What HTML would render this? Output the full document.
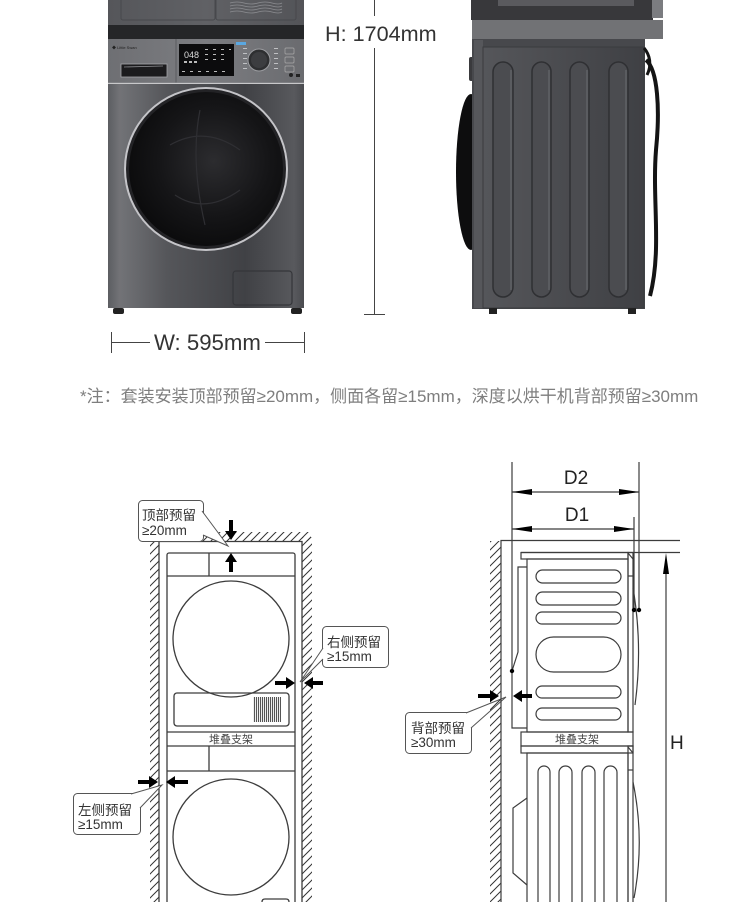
<!DOCTYPE html>
<html><head><meta charset="utf-8"><style>
html,body{margin:0;padding:0;background:#fff;}
svg{display:block;}
text{font-family:"Liberation Sans","Noto Sans CJK SC",sans-serif;}
</style></head><body>
<svg width="750" height="902" viewBox="0 0 750 902" xmlns="http://www.w3.org/2000/svg">
<defs>
<linearGradient id="gBody" x1="0" x2="1" y1="0" y2="0">
<stop offset="0" stop-color="#5c5d61"/><stop offset="0.06" stop-color="#727377"/><stop offset="0.3" stop-color="#55565a"/><stop offset="0.7" stop-color="#404145"/><stop offset="0.95" stop-color="#58595d"/><stop offset="1" stop-color="#4a4b4f"/>
</linearGradient>
<linearGradient id="gPanel" x1="0" x2="1" y1="0" y2="0">
<stop offset="0" stop-color="#6e6f73"/><stop offset="0.5" stop-color="#7c7d81"/><stop offset="1" stop-color="#6a6b6f"/>
</linearGradient>
<linearGradient id="gTop" x1="0" x2="1" y1="0" y2="0">
<stop offset="0" stop-color="#55565a"/><stop offset="0.5" stop-color="#606165"/><stop offset="1" stop-color="#535458"/>
</linearGradient>
<radialGradient id="gDoor" cx="0.55" cy="0.45" r="0.6">
<stop offset="0" stop-color="#2c2c2f"/><stop offset="0.6" stop-color="#151517"/><stop offset="1" stop-color="#0a0a0b"/>
</radialGradient>
<linearGradient id="gSide" x1="0" x2="1" y1="0" y2="0">
<stop offset="0" stop-color="#55565a"/><stop offset="0.5" stop-color="#4a4b4f"/><stop offset="1" stop-color="#3f4044"/>
</linearGradient>
<pattern id="hatch" width="8" height="8" patternUnits="userSpaceOnUse">
<path d="M0,8 L8,0 M-1,1 L1,-1 M7,9 L9,7" stroke="#333" stroke-width="1"/>
</pattern>
<pattern id="grille" width="2" height="4" patternUnits="userSpaceOnUse">
<rect x="0" y="0" width="1.1" height="4" fill="#555"/>
</pattern>
</defs>

<!-- ===== FRONT PHOTO ===== -->
<rect x="108" y="0" width="196" height="26" fill="url(#gTop)"/>
<rect x="121" y="-2" width="94" height="22" rx="2" fill="none" stroke="#47484c"/>
<rect x="216" y="-2" width="80" height="22" rx="2" fill="none" stroke="#47484c"/>
<g stroke="#8c8d91" stroke-width="0.8" fill="none">
<path d="M230,3 q7,-2 14,0 t14,0 t14,0 t10,0"/><path d="M230,6 q7,-2 14,0 t14,0 t14,0 t10,0"/>
<path d="M230,9 q7,-2 14,0 t14,0 t14,0 t10,0"/><path d="M230,12 q7,-2 14,0 t14,0 t14,0 t10,0"/>
</g>
<rect x="108" y="25" width="196" height="14" fill="#252628"/>
<rect x="108" y="39" width="196" height="44" fill="url(#gPanel)"/>
<line x1="176" y1="39" x2="176" y2="83" stroke="#5a5b5f"/>
<line x1="108" y1="83" x2="304" y2="83" stroke="#909195"/>
<text x="112" y="49" font-size="4" fill="#222">◆ Little Swan</text>
<rect x="179" y="44" width="55" height="32" fill="#0c0c0d"/>
<text x="184" y="58" font-size="9" fill="#ddd">048</text>
<g fill="#bbb"><rect x="184" y="61" width="3" height="2"/><rect x="189" y="61" width="3" height="2"/><rect x="194" y="61" width="3" height="2"/>
<rect x="205" y="49" width="3" height="1"/><rect x="213" y="49" width="3" height="1"/><rect x="221" y="49" width="3" height="1"/><rect x="229" y="49" width="2" height="1"/>
<rect x="205" y="54" width="3" height="1"/><rect x="213" y="54" width="3" height="1"/><rect x="221" y="54" width="3" height="1"/>
<rect x="205" y="59" width="3" height="1"/><rect x="213" y="59" width="3" height="1"/><rect x="221" y="59" width="3" height="1"/>
<rect x="182" y="71" width="3" height="1"/><rect x="190" y="71" width="3" height="1"/><rect x="198" y="71" width="3" height="1"/><rect x="206" y="71" width="3" height="1"/><rect x="214" y="71" width="3" height="1"/><rect x="222" y="71" width="3" height="1"/></g>
<rect x="236" y="42" width="10" height="3" fill="#5aa7e0"/>
<g fill="#bfc0c3"><rect x="243" y="48" width="4" height="1"/><rect x="243" y="53" width="4" height="1"/><rect x="243" y="58" width="4" height="1"/><rect x="243" y="63" width="4" height="1"/><rect x="243" y="68" width="4" height="1"/>
<rect x="274" y="48" width="4" height="1"/><rect x="274" y="53" width="4" height="1"/><rect x="274" y="58" width="4" height="1"/><rect x="274" y="63" width="4" height="1"/><rect x="274" y="68" width="4" height="1"/></g>
<circle cx="259" cy="60" r="11" fill="#2e2f31" stroke="#9c9da1" stroke-width="1"/>
<circle cx="259" cy="60" r="8" fill="#3c3d40"/>
<rect x="285" y="48" width="9" height="6" rx="1" fill="none" stroke="#aaa" stroke-width="0.7"/>
<rect x="285" y="57" width="9" height="6" rx="1" fill="none" stroke="#aaa" stroke-width="0.7"/>
<rect x="285" y="66" width="9" height="6" rx="1" fill="none" stroke="#aaa" stroke-width="0.7"/>
<circle cx="291" cy="75" r="2" fill="#222"/><rect x="296" y="74" width="4" height="3" fill="#222"/>
<rect x="121" y="64" width="46" height="13" fill="#1b1b1d" stroke="#a5a6aa" stroke-width="0.8"/>
<line x1="124" y1="67" x2="163" y2="66" stroke="#8a8b8f" stroke-width="0.8"/>
<rect x="108" y="84" width="196" height="224" fill="url(#gBody)"/>
<circle cx="206" cy="169" r="82" fill="#c4c4c8"/>
<circle cx="206" cy="169" r="80" fill="#232326"/>
<circle cx="206" cy="169" r="77" fill="url(#gDoor)"/>
<path d="M170,145 q35,-20 70,5 M175,195 q30,20 65,-5 M200,110 q-10,50 5,115" stroke="#2f2f33" stroke-width="1.2" fill="none"/>
<rect x="233" y="271" width="59" height="34" rx="3" fill="none" stroke="#35363a" stroke-width="1.2"/>
<rect x="113" y="308" width="11" height="6" rx="2" fill="#222"/>
<rect x="291" y="308" width="11" height="6" rx="2" fill="#222"/>

<!-- H dimension -->
<g stroke="#444" stroke-width="1" fill="none">
<line x1="374.5" y1="0" x2="374.5" y2="16"/>
<line x1="374.5" y1="48" x2="374.5" y2="314"/>
<line x1="364" y1="314.5" x2="385" y2="314.5"/>
</g>
<text x="325" y="41" font-size="21.6" fill="#333">H: 1704mm</text>
<!-- W dimension -->
<g stroke="#444" stroke-width="1" fill="none">
<line x1="111.5" y1="332" x2="111.5" y2="353"/>
<line x1="304.5" y1="332" x2="304.5" y2="353"/>
<line x1="112" y1="342.5" x2="150" y2="342.5"/>
<line x1="265" y1="342.5" x2="304" y2="342.5"/>
</g>
<text x="154" y="350" font-size="22.2" fill="#333">W: 595mm</text>

<!-- ===== SIDE PHOTO ===== -->
<ellipse cx="471" cy="172" rx="15" ry="78" fill="#0d0d0e"/>
<rect x="469" y="57" width="6" height="24" rx="2" fill="#3a3a3d"/>
<rect x="471" y="0" width="182" height="20" fill="#38383b"/>
<rect x="498" y="0" width="136" height="6" fill="#5a5a5e"/>
<rect x="652" y="0" width="11" height="18" fill="#7b7c80"/>
<rect x="472" y="20" width="191" height="19" fill="#717275"/>
<rect x="472" y="39" width="173" height="270" fill="#47484c"/>
<rect x="474" y="40" width="9" height="268" fill="#56575b"/>
<rect x="483" y="47" width="161" height="261" fill="url(#gSide)" stroke="#3a3b3e"/>
<g fill="#4b4c50" stroke="#2f3033" stroke-width="1.5">
<rect x="493" y="62" width="20" height="235" rx="10"/>
<rect x="532" y="62" width="19" height="235" rx="9.5"/>
<rect x="570" y="62" width="19" height="235" rx="9.5"/>
<rect x="609" y="62" width="19" height="235" rx="9.5"/>
</g>
<g stroke="#6a6b6f" stroke-width="1" fill="none">
<line x1="511" y1="70" x2="511" y2="290"/><line x1="549" y1="70" x2="549" y2="290"/><line x1="587" y1="70" x2="587" y2="290"/><line x1="626" y1="70" x2="626" y2="290"/>
</g>
<path d="M646,60 C658,70 660,110 656,150 C652,200 662,250 650,296" stroke="#141414" stroke-width="4" fill="none"/>
<path d="M644,48 C650,55 652,65 647,75" stroke="#141414" stroke-width="3" fill="none"/>
<rect x="489" y="308" width="8" height="6" fill="#222"/>
<rect x="628" y="308" width="8" height="6" fill="#222"/>

<!-- NOTE -->
<text x="80" y="402" font-size="17" fill="#7e7e7e">*注：套装安装顶部预留≥20mm，侧面各留≥15mm，深度以烘干机背部预留≥30mm</text>

<!-- ===== LEFT DIAGRAM ===== -->
<rect x="150" y="541" width="9" height="361" fill="url(#hatch)"/>
<rect x="302" y="537" width="10" height="365" fill="url(#hatch)"/>
<rect x="203" y="532" width="108" height="9" fill="url(#hatch)"/>
<g stroke="#3c3c3c" stroke-width="1.3" fill="none">
<path d="M159,902 V541.5 H302 V902"/>
<rect x="167" y="553" width="128" height="360" rx="2"/>
<line x1="167" y1="576" x2="295" y2="576"/>
<line x1="209" y1="553" x2="209" y2="576"/>
<circle cx="231" cy="639" r="58"/>
<rect x="174" y="693" width="115" height="33" rx="3"/>
<line x1="167" y1="732" x2="295" y2="732"/>
<line x1="167" y1="746" x2="295" y2="746"/>
<line x1="209" y1="746" x2="209" y2="771"/>
<line x1="167" y1="771" x2="295" y2="771"/>
<circle cx="231" cy="837" r="58"/>
<path d="M262,905 V902 Q262,899 265,899 H286 Q289,899 289,902 V905"/>
</g>
<rect x="253" y="697" width="28" height="25" fill="url(#grille)"/>
<text x="231" y="743" font-size="11" fill="#444" text-anchor="middle">堆叠支架</text>
<g fill="#000">
<path d="M229,520 H233 V531 H237 L231,540 L225,531 H229 Z"/>
<path d="M229,572 H233 V562 H237 L231,553 L225,562 H229 Z"/>
<path d="M275,681 V685 H286 V689 L295,683 L286,677 V681 Z"/>
<path d="M323,681 V685 H313 V689 L304,683 L313,677 V681 Z"/>
<path d="M138,780 V784 H149 V788 L158,782 L149,776 V780 Z"/>
<path d="M188,780 V784 H175 V788 L166,782 L175,776 V780 Z"/>
</g>
<!-- callouts -->
<g fill="#fff" stroke="#555" stroke-width="1">
<rect x="138.5" y="500.5" width="65" height="41" rx="4"/>
<path d="M202,511 L228,546 L203,535"/>
<rect x="322.5" y="626.5" width="66" height="41" rx="4"/>
<path d="M323,648 L300,682 L323,659"/>
<rect x="73.5" y="793.5" width="67" height="41" rx="4"/>
<path d="M131,794 L162,785 L140,808"/>
<rect x="405.5" y="712.5" width="66" height="41" rx="4"/>
<path d="M466,713 L506,697 L471,728"/>
</g>
<g fill="#333" font-size="13.5">
<text x="142" y="520">顶部预留</text><text x="142" y="535">≥20mm</text>
<text x="327" y="647">右侧预留</text><text x="327" y="661">≥15mm</text>
<text x="78" y="815">左侧预留</text><text x="78" y="829">≥15mm</text>
<text x="411" y="733">背部预留</text><text x="411" y="747">≥30mm</text>
</g>

<!-- ===== RIGHT DIAGRAM ===== -->
<rect x="490" y="541" width="11" height="361" fill="url(#hatch)"/>
<g stroke="#3c3c3c" stroke-width="1.2" fill="none">
<path d="M501,902 V540.5 H680"/>
<line x1="521" y1="552.5" x2="680" y2="552.5"/>
<line x1="512" y1="462" x2="512" y2="671"/>
<line x1="639" y1="462" x2="639" y2="610"/>
<line x1="634" y1="517" x2="634" y2="610"/>
<line x1="512" y1="492" x2="639" y2="492"/>
<line x1="512" y1="529" x2="634" y2="529"/>
<line x1="666" y1="560" x2="666" y2="902"/>
<path d="M527,567 H518 V652 L512,671 M512,671 V728 H527"/>
<rect x="521" y="552.5" width="107" height="6.5"/>
<rect x="527" y="559" width="101" height="173"/>
<rect x="628" y="552.5" width="5" height="179.5"/>
<line x1="628" y1="553" x2="633" y2="559"/>
<line x1="628" y1="576" x2="633" y2="576"/>
<path d="M633,588 Q643,646 635,705"/>
<rect x="536" y="570" width="85" height="13" rx="6.5"/>
<rect x="536" y="592" width="85" height="13" rx="6.5"/>
<rect x="536" y="612" width="85" height="12" rx="6"/>
<rect x="536" y="637" width="85" height="35" rx="17.5"/>
<rect x="536" y="686" width="85" height="12" rx="6"/>
<rect x="536" y="708" width="85" height="12" rx="6"/>
<rect x="521" y="732" width="112" height="14"/>
<rect x="521" y="746" width="112" height="7"/>
<rect x="527" y="753" width="101" height="160"/>
<rect x="628" y="746" width="5" height="167"/>
<line x1="628" y1="747" x2="633" y2="753"/>
<line x1="628" y1="770" x2="633" y2="770"/>
<rect x="538" y="766" width="12" height="150" rx="6"/>
<rect x="559" y="766" width="13" height="150" rx="6.5"/>
<rect x="582" y="766" width="13" height="150" rx="6.5"/>
<rect x="604" y="766" width="13" height="150" rx="6.5"/>
<path d="M527,798 L513,808 V873 L527,885"/>
<path d="M633,782 Q645,840 634,898"/>
</g>
<g fill="#000">
<circle cx="512" cy="671" r="2.2"/>
<circle cx="634" cy="610" r="2.2"/>
<circle cx="639" cy="610" r="2.2"/>
<path d="M512,492 L532,489 L532,495 Z"/><path d="M639,492 L619,489 L619,495 Z"/>
<path d="M512,529 L532,526 L532,532 Z"/><path d="M634,529 L614,526 L614,532 Z"/>
<path d="M666,553 L663,574 L669,574 Z"/>
<path d="M478,694 V698 H490 V702 L499,696 L490,690 V694 Z"/>
<path d="M532,694 V698 H522 V702 L513,696 L522,690 V694 Z"/>
</g>
<text x="577" y="743" font-size="11" fill="#444" text-anchor="middle">堆叠支架</text>
<g fill="#222" font-size="19">
<text x="576" y="484" text-anchor="middle">D2</text>
<text x="577" y="521" text-anchor="middle">D1</text>
<text x="670" y="749">H</text>
</g>
</svg>
</body></html>
